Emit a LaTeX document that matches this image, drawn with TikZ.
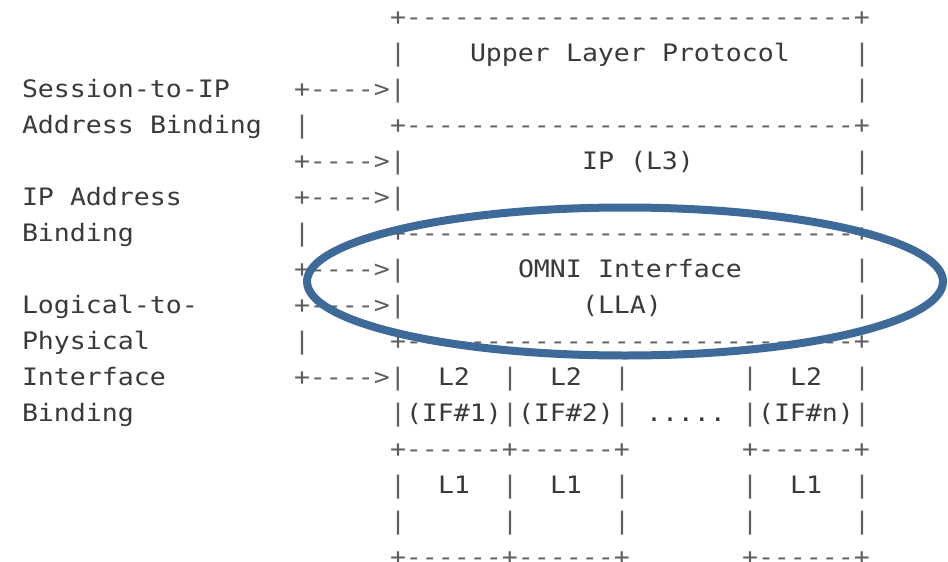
\documentclass[tikz,border=0pt]{standalone}
\usepackage{fontspec}
\setmonofont{DejaVu Sans Mono}[FakeStretch=1.107,Ligatures=TeXOff]
\definecolor{labelc}{HTML}{3A3A3A}
\definecolor{artc}{HTML}{5E5E5E}
\definecolor{ringc}{HTML}{3E6A99}
\newcommand\putseg[5]{\node[#1] (#2) at ({22+16*#3},{-25-36*#4}) {#5};}
\begin{document}
\begin{tikzpicture}[x=1pt,y=1pt,
  seg/.style={anchor=base west,inner sep=0pt,outer sep=0pt,font=\ttfamily\fontsize{24}{24}\selectfont},
  lab/.style={seg,text=labelc},
  art/.style={seg,text=artc},
  ring/.style={draw=ringc,line width=8pt}]
\useasboundingbox (0,0) rectangle (948,-562);
\fill[white] (0,0) rectangle (948,-562);
% row 0
\putseg{art}{r0a}{23}{0}{+----------------------------+}
% row 1
\putseg{art}{r1a}{23}{1}{|}
\putseg{lab}{r1b}{28}{1}{Upper}
\putseg{lab}{r1c}{34}{1}{Layer}
\putseg{lab}{r1d}{40}{1}{Protocol}
\putseg{art}{r1e}{52}{1}{|}
% row 2
\putseg{lab}{r2a}{0}{2}{Session-to-IP}
\putseg{art}{r2b}{17}{2}{+---->|}
\putseg{art}{r2c}{52}{2}{|}
% row 3
\putseg{lab}{r3a}{0}{3}{Address}
\putseg{lab}{r3b}{8}{3}{Binding}
\putseg{art}{r3c}{17}{3}{|}
\putseg{art}{r3d}{23}{3}{+----------------------------+}
% row 4
\putseg{art}{r4a}{17}{4}{+---->|}
\putseg{lab}{r4b}{35}{4}{IP}
\putseg{lab}{r4c}{38}{4}{(L3)}
\putseg{art}{r4d}{52}{4}{|}
% row 5
\putseg{lab}{r5a}{0}{5}{IP}
\putseg{lab}{r5b}{3}{5}{Address}
\putseg{art}{r5c}{17}{5}{+---->|}
\putseg{art}{r5d}{52}{5}{|}
% row 6
\putseg{lab}{r6a}{0}{6}{Binding}
\putseg{art}{r6b}{17}{6}{|}
\putseg{art}{r6c}{23}{6}{+----------------------------+}
% row 7
\putseg{art}{r7a}{17}{7}{+---->|}
\putseg{lab}{r7b}{31}{7}{OMNI}
\putseg{lab}{r7c}{36}{7}{Interface}
\putseg{art}{r7d}{52}{7}{|}
% row 8
\putseg{lab}{r8a}{0}{8}{Logical-to-}
\putseg{art}{r8b}{17}{8}{+---->|}
\putseg{lab}{r8c}{35}{8}{(LLA)}
\putseg{art}{r8d}{52}{8}{|}
% row 9
\putseg{lab}{r9a}{0}{9}{Physical}
\putseg{art}{r9b}{17}{9}{|}
\putseg{art}{r9c}{23}{9}{+----------------------------+}
% row 10
\putseg{lab}{r10a}{0}{10}{Interface}
\putseg{art}{r10b}{17}{10}{+---->|}
\putseg{lab}{r10c}{26}{10}{L2}
\putseg{art}{r10d}{30}{10}{|}
\putseg{lab}{r10e}{33}{10}{L2}
\putseg{art}{r10f}{37}{10}{|}
\putseg{art}{r10g}{45}{10}{|}
\putseg{lab}{r10h}{48}{10}{L2}
\putseg{art}{r10i}{52}{10}{|}
% row 11
\putseg{lab}{r11a}{0}{11}{Binding}
\putseg{art}{r11b}{23}{11}{|}
\putseg{lab}{r11c}{24}{11}{(IF\#1)}
\putseg{art}{r11d}{30}{11}{|}
\putseg{lab}{r11e}{31}{11}{(IF\#2)}
\putseg{art}{r11f}{37}{11}{|}
\putseg{lab}{r11g}{39}{11}{.....}
\putseg{art}{r11h}{45}{11}{|}
\putseg{lab}{r11i}{46}{11}{(IF\#n)}
\putseg{art}{r11j}{52}{11}{|}
% row 12
\putseg{art}{r12a}{23}{12}{+------+------+}
\putseg{art}{r12b}{45}{12}{+------+}
% row 13
\putseg{art}{r13a}{23}{13}{|}
\putseg{lab}{r13b}{26}{13}{L1}
\putseg{art}{r13c}{30}{13}{|}
\putseg{lab}{r13d}{33}{13}{L1}
\putseg{art}{r13e}{37}{13}{|}
\putseg{art}{r13f}{45}{13}{|}
\putseg{lab}{r13g}{48}{13}{L1}
\putseg{art}{r13h}{52}{13}{|}
% row 14
\putseg{art}{r14a}{23}{14}{|}
\putseg{art}{r14b}{30}{14}{|}
\putseg{art}{r14c}{37}{14}{|}
\putseg{art}{r14d}{45}{14}{|}
\putseg{art}{r14e}{52}{14}{|}
% row 15
\putseg{art}{r15a}{23}{15}{+------+------+}
\putseg{art}{r15b}{45}{15}{+------+}
% highlight ring
\draw[ring] (625,-281.5) ellipse [x radius=318, y radius=74];
\end{tikzpicture}
\end{document}
